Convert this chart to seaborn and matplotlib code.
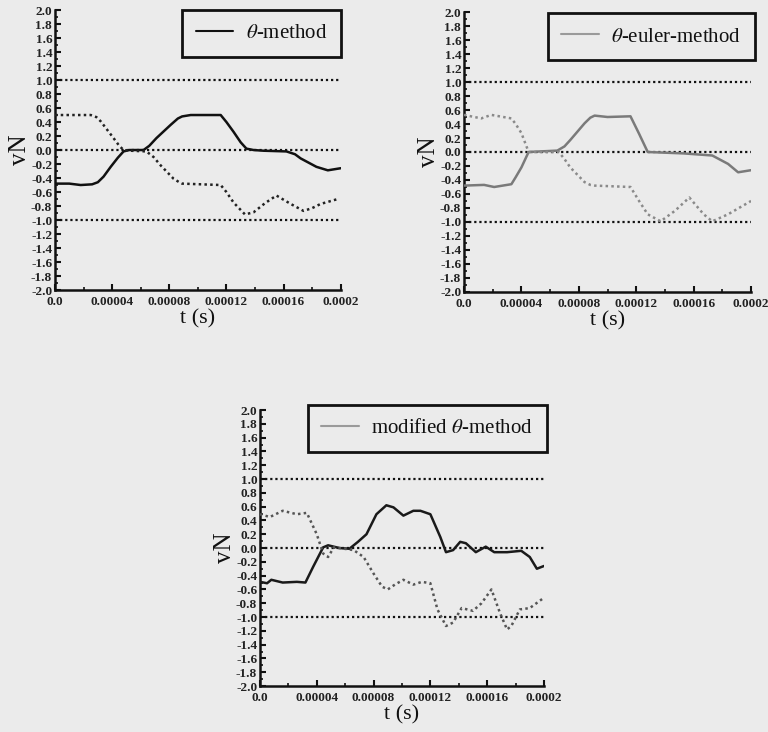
import numpy as np
import pandas as pd
import matplotlib
matplotlib.use("Agg")
import matplotlib.pyplot as plt
from matplotlib.lines import Line2D
from matplotlib.ticker import MultipleLocator, FixedLocator, FuncFormatter
import seaborn as sns

# ---------------- data (t in units of 1e-5 s) ----------------
# Panel 1: theta-method
p1_solid_t = [0, 1.0, 1.8, 2.6, 3.0, 3.4, 3.9, 4.4, 4.8, 5.2, 6.2, 6.6, 7.1, 8.1, 8.6, 8.9, 9.5, 11.6, 12.0, 12.5, 13.0, 13.4, 13.9, 14.6, 16.2, 16.8, 17.2, 18.3, 19.1, 20.0]
p1_solid_v = [-0.48, -0.48, -0.50, -0.49, -0.46, -0.38, -0.24, -0.11, -0.02, 0.0, 0.0, 0.06, 0.17, 0.36, 0.45, 0.48, 0.50, 0.50, 0.40, 0.26, 0.11, 0.02, 0.0, -0.01, -0.02, -0.06, -0.12, -0.24, -0.29, -0.26]
p1_dot_t = [0, 2.5, 2.9, 3.2, 4.1, 4.5, 4.8, 5.3, 6.4, 6.9, 7.4, 8.3, 8.7, 8.9, 11.6, 12.0, 12.5, 13.3, 13.9, 14.7, 15.5, 16.5, 17.4, 18.0, 18.6, 19.8]
p1_dot_v = [0.50, 0.50, 0.47, 0.41, 0.17, 0.06, 0.0, -0.01, -0.02, -0.10, -0.22, -0.41, -0.46, -0.48, -0.50, -0.60, -0.75, -0.92, -0.89, -0.76, -0.65, -0.77, -0.87, -0.83, -0.77, -0.70]

# Panel 2: theta-euler-method
p2_solid_t = [0, 1.4, 2.1, 3.3, 3.6, 4.0, 4.5, 6.5, 7.0, 7.4, 8.4, 8.8, 9.1, 10.0, 11.6, 12.2, 12.8, 15.3, 17.3, 18.4, 19.1, 20.0]
p2_solid_v = [-0.48, -0.47, -0.50, -0.46, -0.36, -0.22, 0.0, 0.02, 0.08, 0.17, 0.41, 0.49, 0.52, 0.50, 0.51, 0.26, 0.0, -0.02, -0.05, -0.17, -0.29, -0.26]
p2_dot_t = [0, 1.2, 1.9, 3.3, 3.6, 4.0, 4.5, 6.6, 7.0, 7.4, 8.4, 8.8, 9.1, 11.6, 12.2, 12.8, 13.7, 14.7, 15.7, 16.7, 17.3, 18.4, 20.0]
p2_dot_v = [0.53, 0.48, 0.53, 0.48, 0.40, 0.27, 0.0, 0.0, -0.10, -0.22, -0.43, -0.47, -0.48, -0.50, -0.70, -0.89, -0.99, -0.84, -0.65, -0.89, -0.99, -0.89, -0.70]

# Panel 3: modified theta-method
p3_solid_t = [0, 0.5, 0.8, 1.6, 2.6, 3.2, 3.75, 4.45, 4.8, 5.6, 6.3, 6.9, 7.5, 8.2, 8.9, 9.4, 10.1, 10.8, 11.3, 12.0, 12.7, 13.1, 13.6, 14.1, 14.5, 15.2, 15.9, 16.5, 17.4, 18.4, 19.0, 19.5, 20.0]
p3_solid_v = [-0.49, -0.51, -0.46, -0.50, -0.49, -0.50, -0.27, 0.01, 0.04, 0.0, -0.01, 0.09, 0.20, 0.49, 0.62, 0.59, 0.47, 0.54, 0.54, 0.49, 0.16, -0.06, -0.03, 0.09, 0.07, -0.06, 0.02, -0.06, -0.06, -0.04, -0.13, -0.30, -0.26]
p3_dot_t = [0, 0.7, 1.6, 2.6, 3.3, 4.0, 4.45, 4.8, 5.2, 5.6, 6.6, 7.3, 8.0, 8.6, 9.0, 9.5, 10.1, 10.8, 11.4, 12.0, 12.5, 13.1, 13.6, 14.2, 15.0, 15.6, 16.3, 16.9, 17.4, 17.7, 18.3, 19.0, 20.0]
p3_dot_v = [0.49, 0.45, 0.54, 0.49, 0.51, 0.20, -0.08, -0.13, 0.01, 0.0, -0.03, -0.13, -0.37, -0.56, -0.60, -0.53, -0.46, -0.53, -0.49, -0.51, -0.89, -1.13, -1.08, -0.87, -0.91, -0.80, -0.60, -0.94, -1.18, -1.13, -0.89, -0.87, -0.72]

legend_labels = [r"$\theta$-method", r"$\theta$-euler-method", r"modified $\theta$-method"]
ref_levels = [1.0, 0.0, -1.0]
x_tick_vals = [0, 4, 8, 12, 16, 20]
x_tick_labels = ["0.0", "0.00004", "0.00008", "0.00012", "0.00016", "0.0002"]

# ---------------- styling ----------------
BG = "#ebebeb"
sns.set_style("ticks")
plt.rcParams["font.family"] = ["Liberation Serif", "DejaVu Serif"]
plt.rcParams["mathtext.fontset"] = "stix"
plt.rcParams["figure.facecolor"] = BG
plt.rcParams["axes.facecolor"] = BG
plt.rcParams["savefig.facecolor"] = BG

fig = plt.figure(figsize=(7.68, 7.32), dpi=100)
positions = [
    [0.0716, 0.6038, 0.372, 0.3825],
    [0.6042, 0.6011, 0.3737, 0.3825],
    [0.3385, 0.0628, 0.3698, 0.3770],
]
panels = [
    (p1_solid_t, p1_solid_v, p1_dot_t, p1_dot_v, "#111111", "#222222", "#111111", (1.0, 1.0)),
    (p2_solid_t, p2_solid_v, p2_dot_t, p2_dot_v, "#7a7a7a", "#8a8a8a", "#9a9a9a", (1.013, 0.995)),
    (p3_solid_t, p3_solid_v, p3_dot_t, p3_dot_v, "#1a1a1a", "#555555", "#9a9a9a", (1.01, 1.018)),
]
DOT = (0, (1, 1.3))

for i, (pos, (st, sv, dt, dv, sc, dc, lc, anchor)) in enumerate(zip(positions, panels)):
    ax = fig.add_axes(pos)
    for lvl in ref_levels:
        ax.axhline(lvl, color="#111111", lw=1.6, ls=DOT, zorder=1)
    df_s = pd.DataFrame({"t": st, "v": sv})
    df_d = pd.DataFrame({"t": dt, "v": dv})
    sns.lineplot(data=df_s, x="t", y="v", ax=ax, color=sc, lw=1.8, zorder=3)
    sns.lineplot(data=df_d, x="t", y="v", ax=ax, color=dc, lw=1.8, ls=DOT, zorder=3)

    ax.set_xlim(0, 20)
    ax.set_ylim(-2.0, 2.0)
    ax.xaxis.set_major_locator(FixedLocator(x_tick_vals))
    ax.set_xticklabels(x_tick_labels)
    ax.xaxis.set_minor_locator(MultipleLocator(2))
    ax.yaxis.set_major_locator(MultipleLocator(0.2))
    ax.yaxis.set_minor_locator(MultipleLocator(0.1))
    ax.yaxis.set_major_formatter(FuncFormatter(lambda v, p: f"{v:.1f}".replace("-0.0", "0.0")))
    ax.tick_params(axis="x", which="major", pad=4)
    ax.tick_params(axis="both", which="major", direction="in", length=4, width=1.5,
                   labelsize=9.5, color="#111111")
    ax.tick_params(axis="y", which="major", pad=2)
    ax.tick_params(axis="both", which="minor", direction="in", length=2.5, width=1.2, color="#111111")
    for lab in ax.get_xticklabels() + ax.get_yticklabels():
        lab.set_fontweight("bold")
        lab.set_color("#222222")
    sns.despine(ax=ax)
    for s in ("left", "bottom"):
        ax.spines[s].set_linewidth(1.8)
        ax.spines[s].set_color("#111111")
    ax.set_xlabel("t (s)", fontsize=16, labelpad=1, color="#111111")
    ax.set_ylabel("vN", fontsize=18, labelpad=0, color="#111111")

    handle = Line2D([], [], color=lc, lw=1.5)
    leg = ax.legend([handle], [legend_labels[i]], loc="upper right", bbox_to_anchor=anchor,
                    borderaxespad=0, fancybox=False, framealpha=1, facecolor=BG,
                    edgecolor="#111111", fontsize=15, handlelength=1.8, borderpad=0.65,
                    handletextpad=0.6)
    leg.get_frame().set_linewidth(2.0)
    for txt in leg.get_texts():
        txt.set_color("#111111")

fig.savefig("out.png", dpi=100)
